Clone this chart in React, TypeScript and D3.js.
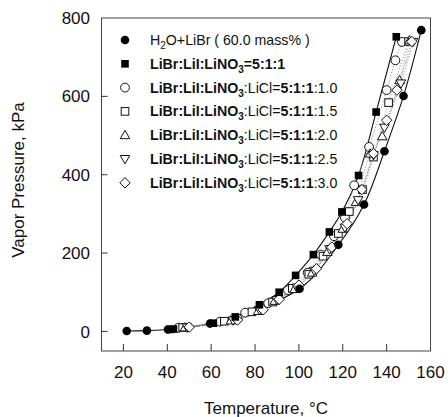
import * as d3 from 'd3';

// filled series
const libr: [number, number][] = [
  [21.5, 1], [30.7, 2], [40.3, 5], [59.5, 20], [100.3, 109], [118, 221],
  [129.7, 324], [139, 460], [147.7, 601], [155.8, 769],
];
const base511: [number, number][] = [
  [41.2, 5], [42.8, 6], [61, 21], [71, 37], [82, 68], [91, 100], [98.5, 143],
  [106.6, 196], [113.9, 254], [119.6, 305], [127.2, 398], [135.2, 560], [144.4, 752],
];
// open series (LiCl ratio)
const licl10: [number, number][] = [
  [45, 9], [64, 25], [72, 33], [75.5, 48], [86, 72], [95, 105], [104, 150], [110, 196],
  [116, 243], [121, 290], [125.2, 373], [132, 471], [140, 616], [144, 692], [147, 739],
];
const licl15: [number, number][] = [
  [47, 10], [66, 26], [78.6, 50], [88, 75], [97, 110], [104.5, 146], [111, 192],
  [118, 250], [123, 306], [129, 362], [134, 445], [140.9, 584], [150, 740],
];
const licl20: [number, number][] = [
  [48, 10], [69, 28], [81.4, 52], [89, 78], [98, 108], [106, 150], [113, 203],
  [120, 262], [126, 330], [132.5, 454], [138, 498], [145.9, 641], [150.4, 743],
];
const licl25: [number, number][] = [
  [49, 10], [70, 28], [82, 55], [90, 80], [99, 112], [107, 155], [114, 210],
  [121, 265], [127, 335], [134, 450], [139, 520], [146.5, 633], [152, 739],
];
const licl30: [number, number][] = [
  [50, 11], [72, 29], [83.7, 55], [91, 82], [100, 118], [108, 160], [115, 215],
  [122, 275], [128.7, 362], [134, 454], [140, 539], [144.7, 616], [151.5, 740],
];

const xTicks = [20, 40, 60, 80, 100, 120, 140, 160];
const yTicks = [0, 200, 400, 600, 800];

type Shape = 'dot' | 'sq' | 'circle' | 'square' | 'up' | 'down' | 'diamond';

const series: { data: [number, number][]; shape: Shape; solid: boolean }[] = [
  { data: libr, shape: 'dot', solid: true },
  { data: base511, shape: 'sq', solid: true },
  { data: licl10, shape: 'circle', solid: false },
  { data: licl15, shape: 'square', solid: false },
  { data: licl20, shape: 'up', solid: false },
  { data: licl25, shape: 'down', solid: false },
  { data: licl30, shape: 'diamond', solid: false },
];

const W = 448;
const H = 417;
const left = 101.5;
const right = 430.5;
const top = 18;
const bottom = 351;

const x = d3.scaleLinear().domain([10, 160]).range([left, right]);
const y = d3.scaleLinear().domain([-50, 800]).range([bottom, top]);

function Marker({ shape, cx, cy }: { shape: Shape; cx: number; cy: number }) {
  const st = { stroke: '#111', strokeWidth: 1 };
  switch (shape) {
    case 'dot':
      return <circle cx={cx} cy={cy} r={4.3} fill="#000" />;
    case 'sq':
      return <rect x={cx - 3.8} y={cy - 3.8} width={7.6} height={7.6} fill="#000" />;
    case 'circle':
      return <circle cx={cx} cy={cy} r={4.4} fill="#fff" {...st} />;
    case 'square':
      return <rect x={cx - 3.8} y={cy - 3.8} width={7.6} height={7.6} fill="#fff" {...st} />;
    case 'up':
      return <path d={`M${cx},${cy - 4.8}L${cx + 4.8},${cy + 3.5}L${cx - 4.8},${cy + 3.5}Z`} fill="#fff" {...st} />;
    case 'down':
      return <path d={`M${cx},${cy + 4.8}L${cx + 4.8},${cy - 3.5}L${cx - 4.8},${cy - 3.5}Z`} fill="#fff" {...st} />;
    case 'diamond':
      return <path d={`M${cx},${cy - 5.2}L${cx + 5.2},${cy}L${cx},${cy + 5.2}L${cx - 5.2},${cy}Z`} fill="#fff" {...st} />;
  }
}

const legendRows: { shape: Shape; parts: { t: string; b?: boolean; sub?: boolean }[] }[] = [
  { shape: 'dot', parts: [{ t: 'H' }, { t: '2', sub: true }, { t: 'O+LiBr ( 60.0 mass% )' }] },
  { shape: 'sq', parts: [{ t: 'LiBr:LiI:LiNO', b: true }, { t: '3', b: true, sub: true }, { t: '=5:1:1', b: true }] },
  ...(['circle', 'square', 'up', 'down', 'diamond'] as Shape[]).map((s, i) => ({
    shape: s,
    parts: [
      { t: 'LiBr:LiI:LiNO', b: true },
      { t: '3', b: true, sub: true },
      { t: ':LiCl=' },
      { t: '5:1:1', b: true },
      { t: ':' + ['1.0', '1.5', '2.0', '2.5', '3.0'][i] },
    ],
  })),
];

export default function App() {
  const line = d3
    .line<[number, number]>()
    .x((d) => x(d[0]))
    .y((d) => y(d[1]))
    .curve(d3.curveCatmullRom.alpha(0.5));

  const font = '"Liberation Sans", Arial, sans-serif';
  const fs = 14.2;

  return (
    <svg
      width={W}
      height={H}
      style={{ position: 'absolute', left: 0, top: 0, background: '#fff' }}
      fontFamily={font}
    >
      <rect x={0} y={0} width={W} height={H} fill="#fff" />
      {/* frame */}
      <rect x={left} y={top} width={right - left} height={bottom - top} fill="none" stroke="#444" strokeWidth={1} />

      {/* curves */}
      {series.map((s, i) => (
        <path
          key={'l' + i}
          d={line(s.data) ?? ''}
          fill="none"
          stroke={s.solid ? '#111' : '#999'}
          strokeWidth={s.solid ? 1.1 : 1}
          strokeDasharray={s.solid ? undefined : '1.2 1.8'}
        />
      ))}

      {/* markers: open first, then filled on top */}
      {[...series.slice(2), ...series.slice(0, 2)].map((s, i) =>
        s.data.map((d, j) => <Marker key={`m${i}-${j}`} shape={s.shape} cx={x(d[0])} cy={y(d[1])} />)
      )}

      {/* x ticks */}
      {xTicks.map((t) => (
        <g key={'x' + t}>
          {t < 160 && <line x1={x(t)} x2={x(t)} y1={bottom} y2={bottom - 7} stroke="#333" />}
          <text x={x(t)} y={378} textAnchor="middle" fontSize={17} fill="#111">
            {t}
          </text>
        </g>
      ))}
      {/* y ticks */}
      {yTicks.map((t) => (
        <g key={'y' + t}>
          {t < 800 && <line x1={left} x2={left + 6} y1={y(t)} y2={y(t)} stroke="#333" />}
          <text x={90} y={y(t)} dy="0.36em" textAnchor="end" fontSize={17} fill="#111">
            {t}
          </text>
        </g>
      ))}

      <text x={266} y={414} textAnchor="middle" fontSize={17} fill="#111">
        Temperature, °C
      </text>
      <text transform="translate(24,180) rotate(-90)" textAnchor="middle" fontSize={17} fill="#111">
        Vapor Pressure, kPa
      </text>

      {/* legend */}
      {legendRows.map((r, i) => {
        const cy = 40 + i * 23.8;
        return (
          <g key={'lg' + i}>
            <Marker shape={r.shape} cx={125} cy={cy} />
            <text x={150} y={cy + 5} fontSize={fs} fill="#111">
              {r.parts.map((p, k) => (
                <tspan
                  key={k}
                  fontWeight={p.b ? 'bold' : 'normal'}
                  fontSize={p.sub ? 10 : fs}
                  dy={p.sub ? 4 : k > 0 && r.parts[k - 1].sub ? -4 : 0}
                >
                  {p.t}
                </tspan>
              ))}
            </text>
          </g>
        );
      })}
    </svg>
  );
}
